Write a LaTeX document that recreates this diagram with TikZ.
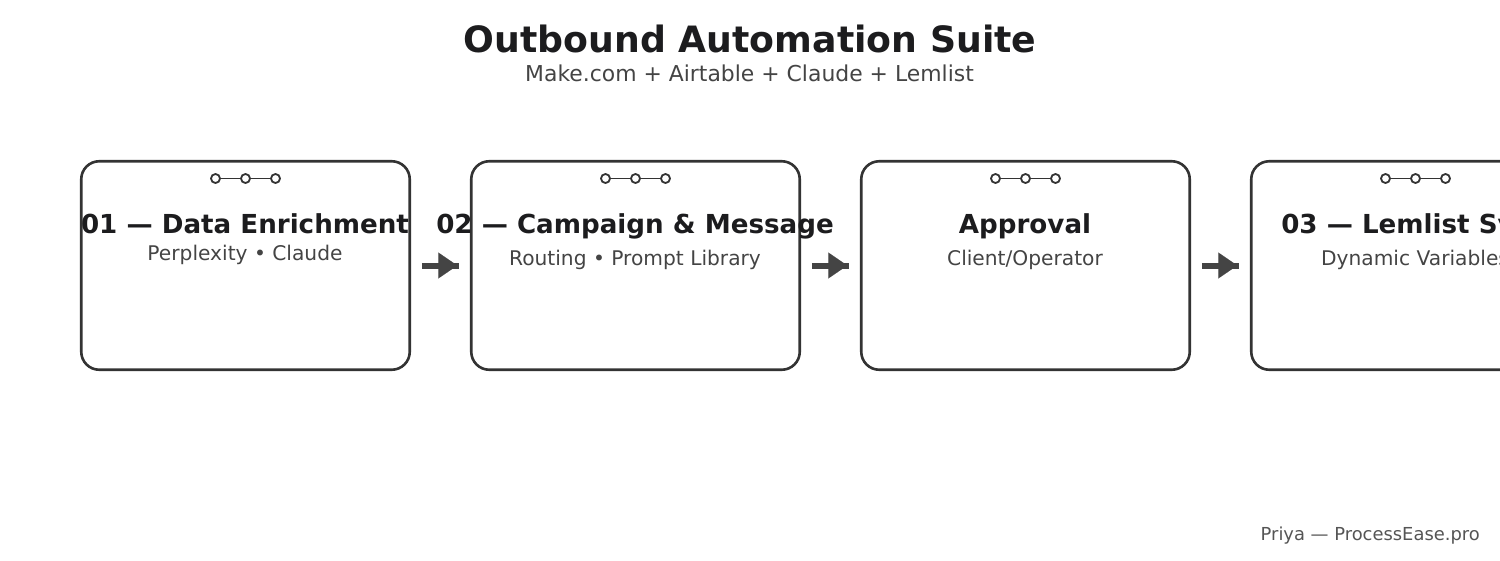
\documentclass[tikz,border=0pt]{standalone}
\usepackage{fontspec}
\setmainfont{DejaVu Sans}
\usetikzlibrary{arrows.meta}
\definecolor{ink}{HTML}{1C1C1E}
\definecolor{subink}{HTML}{444444}
\definecolor{edge}{HTML}{333333}
\definecolor{flow}{HTML}{444444}
\definecolor{foot}{HTML}{555555}
\tikzset{
  card/.style={draw=edge,line width=2.6pt,rounded corners=18pt,minimum width=328.5pt,minimum height=208.5pt,inner sep=0pt,outer sep=0pt},
  dot/.style={circle,draw=edge,fill=white,line width=1.8pt,minimum size=9pt,inner sep=0pt,outer sep=0pt},
  dotlink/.style={draw=edge,line width=1.8pt},
  cardtitle/.style={anchor=base,text=ink,font=\fontsize{26.15}{30}\selectfont\bfseries,inner sep=0pt},
  cardsub/.style={anchor=base,text=subink,font=\fontsize{20.2}{24}\selectfont,inner sep=0pt},
  shaft/.style={draw=flow,line width=6pt,shorten <=12pt,shorten >=12pt},
  flowhead/.style={draw=none,shorten <=30pt,shorten >=14pt,-{Triangle[length=19pt,width=26pt,fill=flow]}},
}
\begin{document}
\begin{tikzpicture}[x=1pt,y=-1pt]
\useasboundingbox (0,0) rectangle (1500,560);
\clip (0,0) rectangle (1500,560);
\node[anchor=base,text=ink,font=\fontsize{36.25}{40}\selectfont\bfseries,inner sep=0pt] (title) at (750,52) {Outbound Automation Suite};
\node[anchor=base,text=subink,font=\fontsize{21.9}{26}\selectfont,inner sep=0pt] (subtitle) at (749.5,81) {Make.com + Airtable + Claude + Lemlist};
\foreach \n/\x in {a/245.5,b/635.5,c/1025.5,d/1415.5}{
  \node[card] (\n) at (\x,265.5) {};
  \node[dot] (\n1) at (\x-30,178.5) {};
  \node[dot] (\n2) at (\x,178.5) {};
  \node[dot] (\n3) at (\x+30,178.5) {};
  \draw[dotlink] (\n1) -- (\n2);
  \draw[dotlink] (\n2) -- (\n3);
}
\node[cardtitle] (at) at (245,233) {01 — Data Enrichment};
\node[cardsub] (as) at (245,260) {Perplexity • Claude};
\node[cardtitle] (bt) at (635,233) {02 — Campaign \& Message};
\node[cardsub] (bs) at (635,265) {Routing • Prompt Library};
\node[cardtitle] (ct) at (1025,233) {Approval};
\node[cardsub] (cs) at (1025,265) {Client/Operator};
\node[cardtitle] (dt) at (1415,233) {03 — Lemlist Sync};
\node[cardsub] (ds) at (1415,265) {Dynamic Variables};
\foreach \p/\q in {a/b,b/c,c/d}{
  \draw[shaft] (\p) -- (\q);
  \draw[flowhead,draw=flow,line width=0.01pt] (\p) -- (\q);
}
\node[anchor=base east,text=foot,font=\fontsize{17.9}{22}\selectfont,inner sep=0pt] (credit) at (1480,540) {Priya — ProcessEase.pro};
\end{tikzpicture}
\end{document}
